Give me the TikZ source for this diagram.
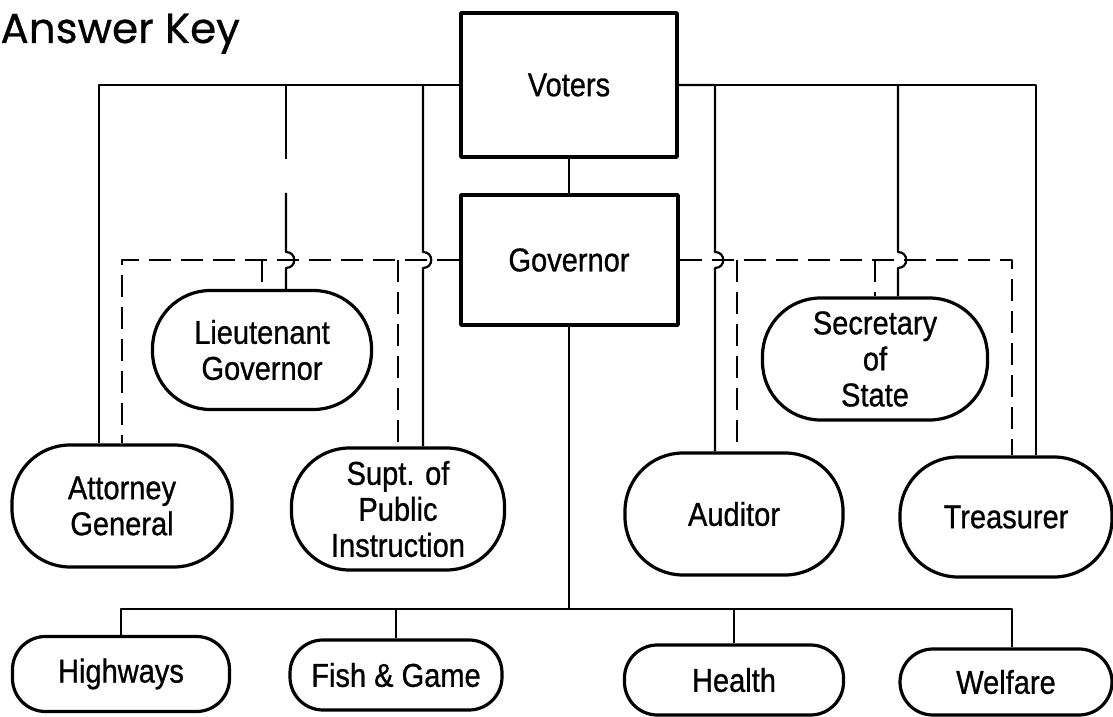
\documentclass[tikz,border=0pt]{standalone}
\usepackage{fontspec}
\newfontfamily\labfont[FakeStretch=0.88,FakeBold=0.8]{Liberation Sans}
\newfontfamily\headfont[FakeBold=0.6]{Poppins}

\begin{document}
\begin{tikzpicture}[>=latex,line join=bevel,
  board/.style={draw,line width=4bp,inner sep=0pt,align=center,
    font=\labfont\fontsize{33bp}{36bp}\selectfont},
  office/.style={draw,line width=3.2bp,rounded corners=58bp,inner sep=0pt,
    minimum height=122bp,align=center,font=\labfont\fontsize{33bp}{36bp}\selectfont},
  dept/.style={office,rounded corners=33bp,minimum height=70bp},
  elected/.style={line width=2.2bp},
  appointed/.style={line width=2.2bp,dash pattern=on 22bp off 10bp},
]
  \pgfsetlinewidth{1bp}
\begin{scope}
  \definecolor{fillcol}{rgb}{1.0,1.0,1.0};
  \pgfsetfillcolor{fillcol}
  \fill (0.0bp,0.0bp) -- (0.0bp,717.0bp) -- (1113.0bp,717.0bp) -- (1113.0bp,0.0bp) -- cycle;
\end{scope}
  \useasboundingbox (0.0bp,0.0bp) rectangle (1113.0bp,717.0bp);
  \pgfsetcolor{black}
  % Node: title
  \node[anchor=base west,inner sep=0pt,font=\headfont\fontsize{42bp}{42bp}\selectfont] (title) at (0.0bp,674.0bp) {Answer Key};
  % Node: voters
  \node[board,minimum width=216bp,minimum height=144bp] (voters) at (569.0bp,632.0bp) {Voters};
  % Node: gov
  \node[board,minimum width=217bp,minimum height=130bp] (gov) at (569.0bp,457.0bp) {Governor};
  % Node: ltgov
  \node[office,minimum width=219bp,minimum height=119bp] (ltgov) at (262.0bp,367.0bp) {Lieutenant\\Governor};
  % Node: sec
  \node[office,minimum width=225bp] (sec) at (875.0bp,358.0bp) {Secretary\\of\\State};
  % Node: att
  \node[office,minimum width=220bp] (att) at (122.0bp,211.0bp) {Attorney\\General};
  % Node: supt
  \node[office,minimum width=213bp] (supt) at (398.0bp,208.0bp) {Supt. of\\Public\\Instruction};
  % Node: aud
  \node[office,minimum width=218bp] (aud) at (734.0bp,203.0bp) {Auditor};
  % Node: treas
  \node[office,minimum width=212bp,minimum height=120bp] (treas) at (1006.0bp,200.0bp) {Treasurer};
  % Node: hwy
  \node[dept,minimum width=217bp,minimum height=75bp] (hwy) at (121.0bp,43.0bp) {Highways};
  % Node: fish
  \node[dept,minimum width=212bp] (fish) at (396.0bp,42.0bp) {Fish \& Game};
  % Node: health
  \node[dept,minimum width=219bp] (health) at (734.0bp,37.0bp) {Health};
  % Node: welf
  \node[dept,minimum width=212bp,minimum height=66bp] (welf) at (1006.0bp,35.0bp) {Welfare};

  % drop points on the offices
  \coordinate (attS) at ([xshift=-23bp]att.north);
  \coordinate (ltS) at ([xshift=24bp]ltgov.north);
  \coordinate (suptS) at ([xshift=25bp]supt.north);
  \coordinate (audS) at ([xshift=-19bp]aud.north);
  \coordinate (audD) at ([xshift=3bp]aud.north);
  \coordinate (secS) at ([xshift=23bp]sec.north);
  \coordinate (treasS) at ([xshift=30bp]treas.north);
  \coordinate (treasD) at ([xshift=6bp]treas.north);
  \coordinate (welfT) at ([xshift=6bp]welf.north);
  % crossings with the dashed line
  \coordinate (ltX) at (ltS |- gov.west);
  \coordinate (suptX) at (suptS |- gov.west);
  \coordinate (audX) at (audS |- gov.east);
  \coordinate (secX) at (secS |- gov.east);
  \coordinate (bus) at (569.0bp,108.0bp);

  % Edge: voters -> gov
  \draw [elected] (gov.north) -- (gov.north |- voters.south);
  % Edge: voters -> att
  \draw [elected] (voters.west) -| (attS);
  % Edge: voters -> ltgov
  \draw [elected] (voters.west -| ltS) -- (ltS |- voters.south);
  \draw [elected] (ltS |- gov.north) -- ([yshift=8bp]ltX) .. controls +(11bp,0bp) and +(11bp,0bp) .. ([yshift=-8bp]ltX) -- (ltS);
  % Edge: voters -> supt
  \draw [elected] (voters.west -| suptS) -- ([yshift=8bp]suptX) .. controls +(11bp,0bp) and +(11bp,0bp) .. ([yshift=-8bp]suptX) -- (suptS);
  % Edge: voters -> aud
  \draw [elected] (voters.east) -| ([yshift=8bp]audX) .. controls +(11bp,0bp) and +(11bp,0bp) .. ([yshift=-8bp]audX) -- (audS);
  % Edge: voters -> sec
  \draw [elected] (voters.east -| secS) -- ([yshift=8bp]secX) .. controls +(11bp,0bp) and +(11bp,0bp) .. ([yshift=-8bp]secX) -- (secS);
  % Edge: voters -> treas
  \draw [elected] (voters.east) -| (treasS);
  % Edge: gov -> att
  \draw [appointed] (gov.west) -| (att.north);
  % Edge: gov -> ltgov
  \draw [appointed] (ltgov.north |- gov.west) -- (ltgov.north);
  % Edge: gov -> supt
  \draw [appointed] (supt.north |- gov.west) -- (supt.north);
  % Edge: gov -> treas
  \draw [appointed] (gov.east) -| (treasD);
  % Edge: gov -> aud
  \draw [appointed] (audD |- gov.east) -- (audD);
  % Edge: gov -> sec
  \draw [appointed] (sec.north |- gov.east) -- (sec.north);
  % Edge: gov -> departments
  \draw [elected] (gov.south) -- (bus);
  \draw [elected] (hwy.north) |- (bus) -| (welfT);
  \draw [elected] (fish.north) -- (fish.north |- bus);
  \draw [elected] (health.north) -- (health.north |- bus);
%
\end{tikzpicture}
\end{document}
